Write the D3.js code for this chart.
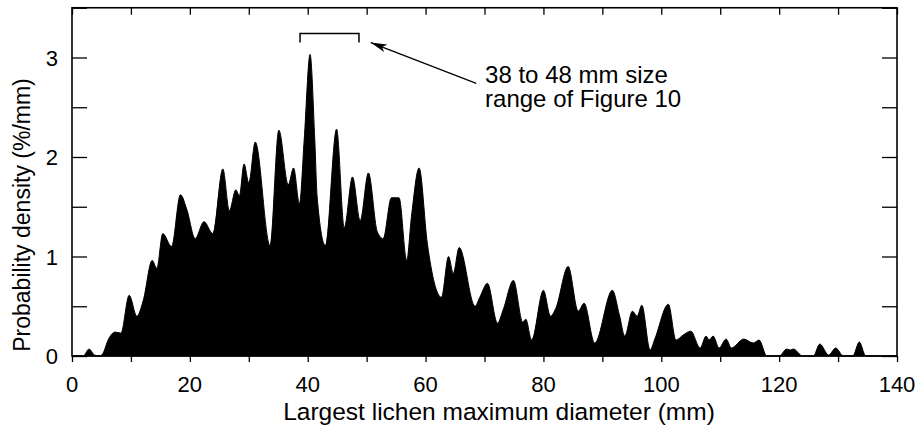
<!DOCTYPE html>
<html>
<head>
<meta charset="utf-8">
<script src="https://cdn.jsdelivr.net/npm/d3@7"></script>
<style>
  body { margin: 0; background: #fff; }
  svg text { font-family: "Liberation Sans", Arial, sans-serif; fill: #000; }
</style>
</head>
<body>
<svg id="chart" width="919" height="435"></svg>
<script>
// largest lichen diameter (mm) and probability density (%/mm)
var diameter = [0, 1.9, 2.9, 3.8, 4.7, 5.2, 6.2, 7.3, 8.3, 9.7, 11.0, 12.1, 13.6, 14.4, 15.4, 16.9,
  18.4, 19.5, 20.9, 22.4, 23.9, 25.6, 26.7, 27.8, 28.4, 29.2, 30.0, 31.1, 33.6, 35.1, 36.7, 37.6,
  38.6, 39.4, 40.4, 41.2, 41.6, 43.0, 44.9, 46.2, 47.6, 48.9, 50.3, 51.8, 52.8, 54.2, 55.5, 56.8,
  57.6, 58.9, 60.3, 62.7, 63.9, 64.7, 65.7, 68.4, 69.2, 70.5, 72.2, 73.2, 74.9, 76.5, 77.0, 78.0,
  80.0, 81.2, 82.1, 84.2, 85.9, 86.9, 88.7, 91.7, 92.9, 93.8, 95.1, 95.9, 96.7, 98.1, 98.9, 101.2,
  102.5, 103.7, 105.0, 106.6, 107.6, 108.1, 108.8, 109.8, 111.0, 111.9, 114.0, 115.6, 116.6, 117.9,
  120.0, 121.3, 121.9, 122.4, 124.0, 125.8, 126.9, 128.4, 129.6, 130.9, 132.5, 133.6, 134.7, 140]
var density = [0, 0, 0.07, 0.01, 0, 0.02, 0.17, 0.24, 0.23, 0.61, 0.40, 0.56, 0.96, 0.88, 1.23, 1.10,
  1.62, 1.47, 1.18, 1.35, 1.23, 1.88, 1.46, 1.67, 1.61, 1.93, 1.74, 2.15, 1.11, 2.27, 1.72, 1.89,
  1.53, 2.17, 3.03, 2.17, 1.60, 1.11, 2.28, 1.29, 1.80, 1.36, 1.84, 1.25, 1.18, 1.59, 1.59, 0.96,
  1.40, 1.89, 1.13, 0.59, 1.00, 0.83, 1.09, 0.50, 0.59, 0.73, 0.33, 0.47, 0.76, 0.34, 0.37, 0.16,
  0.66, 0.40, 0.48, 0.90, 0.45, 0.53, 0.13, 0.66, 0.41, 0.20, 0.45, 0.40, 0.51, 0.06, 0.17, 0.52,
  0.16, 0.21, 0.25, 0.08, 0.20, 0.16, 0.20, 0.08, 0.17, 0.08, 0.17, 0.13, 0.16, 0,
  0, 0.07, 0.06, 0.07, 0, 0, 0.12, 0.01, 0.08, 0, 0, 0.14, 0, 0]

var xMajor = [0, 20, 40, 60, 80, 100, 120, 140]
var xAll = [0, 10, 20, 30, 40, 50, 60, 70, 80, 90, 100, 110, 120, 130, 140]
var yMajor = [0, 1, 2, 3]
var yAll = [0, 0.5, 1, 1.5, 2, 2.5, 3, 3.5]

var noteLines = ["38 to 48 mm size", "range of Figure 10"]
var bracketRange = [38.7, 48.7]

// plot box (named so they don't clash with window.top)
var pLeft = 72, pRight = 897, pTop = 7.75, pBottom = 356

var svg = d3.select("#chart")

var x = d3.scaleLinear().domain([0, 140]).range([pLeft, pRight])
var y = d3.scaleLinear().domain([0, 3.5]).range([pBottom, pTop])

var data = diameter.map(function(d, i) { return [d, density[i]] })

var area = d3.area()
  .x(function(d) { return x(d[0]) })
  .y0(y(0))
  .y1(function(d) { return y(d[1]) })
  .curve(d3.curveMonotoneX)

svg.append("path")
  .datum(data)
  .attr("d", area)
  .attr("fill", "#000")
  .attr("stroke", "#000")
  .attr("stroke-width", 1)

// axes: bottom ticks outward, the other three inward
svg.append("g").attr("transform", "translate(0," + pBottom + ")")
  .call(d3.axisBottom(x).tickValues(xAll).tickSize(6).tickFormat(""))
svg.append("g").attr("transform", "translate(0," + pTop + ")")
  .call(d3.axisTop(x).tickValues(xAll).tickSize(-7).tickFormat(""))
svg.append("g").attr("transform", "translate(" + pLeft + ",0)")
  .call(d3.axisLeft(y).tickValues(yAll).tickSize(-15).tickFormat(""))
svg.append("g").attr("transform", "translate(" + pRight + ",0)")
  .call(d3.axisRight(y).tickValues(yAll).tickSize(-15).tickFormat(""))

svg.selectAll(".domain").remove()
svg.selectAll(".tick line").attr("stroke", "#000").attr("stroke-width", 1.3)

// frame
svg.append("rect")
  .attr("x", pLeft).attr("y", pTop)
  .attr("width", pRight - pLeft).attr("height", pBottom - pTop)
  .attr("fill", "none").attr("stroke", "#000").attr("stroke-width", 1.6)

// tick labels
svg.selectAll(".xlab").data(xMajor).enter().append("text")
  .attr("x", function(d) { return x(d) })
  .attr("y", 392)
  .attr("text-anchor", "middle")
  .style("font-size", "22px")
  .text(function(d) { return d })

svg.selectAll(".ylab").data(yMajor).enter().append("text")
  .attr("x", 58)
  .attr("y", function(d) { return y(d) + 8 })
  .attr("text-anchor", "end")
  .style("font-size", "22px")
  .text(function(d) { return d })

// axis titles
svg.append("text")
  .attr("x", 499).attr("y", 420)
  .attr("text-anchor", "middle")
  .style("font-size", "24.5px")
  .text("Largest lichen maximum diameter (mm)")

svg.append("text")
  .attr("transform", "translate(30,215) rotate(-90)")
  .attr("text-anchor", "middle")
  .style("font-size", "23px")
  .text("Probability density (%/mm)")

// annotation: bracket, arrow, note
var bTop = y(3.24), bBot = y(3.15)
svg.append("path")
  .attr("d", "M" + x(bracketRange[0]) + "," + bBot + "V" + bTop + "H" + x(bracketRange[1]) + "V" + bBot)
  .attr("fill", "none").attr("stroke", "#000").attr("stroke-width", 1.5)

svg.append("defs").append("marker")
  .attr("id", "head")
  .attr("viewBox", "0 0 16 8")
  .attr("refX", 16).attr("refY", 4)
  .attr("markerWidth", 16).attr("markerHeight", 8)
  .attr("markerUnits", "userSpaceOnUse")
  .attr("orient", "auto")
  .append("path")
  .attr("d", "M0,0L16,4L0,8L4,4Z")
  .attr("fill", "#000")

svg.append("line")
  .attr("x1", x(68.6)).attr("y1", y(2.74))
  .attr("x2", x(50.7)).attr("y2", y(3.15))
  .attr("stroke", "#000").attr("stroke-width", 1.2)
  .attr("marker-end", "url(#head)")

svg.selectAll(".note").data(noteLines).enter().append("text")
  .attr("x", x(70.1))
  .attr("y", function(d, i) { return y(2.74) + i * 24 })
  .style("font-size", "24px")
  .text(function(d) { return d })
</script>
</body>
</html>
